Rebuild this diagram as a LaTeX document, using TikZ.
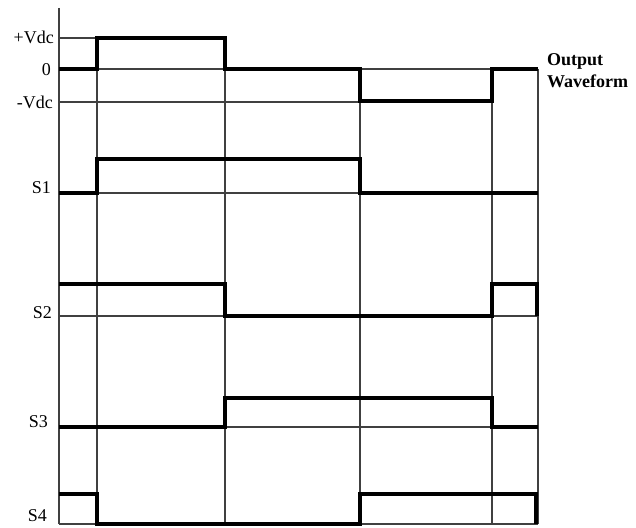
\documentclass[tikz,border=0pt]{standalone}
\usepackage{fontspec}
\setmainfont{Liberation Serif}
\usetikzlibrary{calc}

\begin{document}
\begin{tikzpicture}[x=1pt,y=-1pt,
    gridline/.style={black!75, line width=1.2pt},
    wave/.style={black, line width=3.2pt, line join=miter},
    lbl/.style={anchor=east, inner sep=0pt, font=\fontsize{18}{21}\selectfont}]
  \useasboundingbox (0,0) rectangle (636,527);
  % Axis
  \draw[gridline] (59,8) -- (59,524);
  % Level lines
  \draw[gridline] (59,38) -- (97,38);
  \draw[gridline] (59,102) -- (492,102);
  \foreach \y in {69, 193, 316, 427, 524} {
    \draw[gridline] (59,\y) -- (538,\y);
  }
  % Switching instants
  \foreach \x/\top in {97/38, 225/38, 360/69, 492/69, 538/69} {
    \draw[gridline] (\x,\top) -- (\x,524);
  }
  % Output waveform
  \draw[wave] (59,69) -- (97,69) -- (97,38) -- (225,38) -- (225,69)
    -- (360,69) -- (360,101) -- (492,101) -- (492,69) -- (538,69);
  % Gate signals
  \draw[wave] (59,193) -- (97,193) -- (97,159) -- (360,159) -- (360,193) -- (538,193);
  \draw[wave] (59,284) -- (225,284) -- (225,316) -- (492,316) -- (492,284)
    -- (537,284) -- (537,316);
  \draw[wave] (59,427) -- (225,427) -- (225,398) -- (492,398) -- (492,427) -- (538,427);
  \draw[wave] (59,494) -- (97,494) -- (97,524) -- (360,524) -- (360,494)
    -- (536,494) -- (536,524);
  % Labels
  \node[lbl] (vp) at (54,37) {+Vdc};
  \node[lbl] (zero) at (51,70) {0};
  \node[lbl] (vn) at (53,102) {-Vdc};
  \foreach \n/\x/\y in {1/51/188, 2/52/313, 3/48/422, 4/47/516} {
    \node[lbl] (s\n) at (\x,\y) {S\n};
  }
  \node[anchor=west, inner sep=0pt, align=left,
    font=\bfseries\fontsize{18}{22}\selectfont] (title) at (547,71) {Output\\Waveform};
\end{tikzpicture}
\end{document}
